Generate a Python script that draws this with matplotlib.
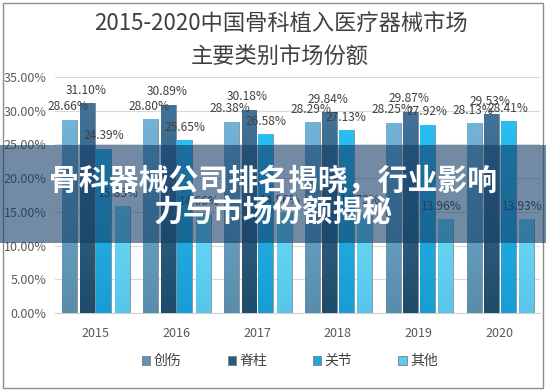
import matplotlib
matplotlib.use("Agg")
import matplotlib.pyplot as plt
import numpy as np
from matplotlib.patches import Rectangle, Patch
from matplotlib.colors import LinearSegmentedColormap

plt.rcParams['font.family'] = ['Noto Sans CJK SC', 'DejaVu Sans']

years = ['2015', '2016', '2017', '2018', '2019', '2020']
series_names = ['创伤', '脊柱', '关节', '其他']
trauma = [28.66, 28.80, 28.38, 28.29, 28.25, 28.13]
spine = [31.10, 30.89, 30.18, 29.84, 29.87, 29.53]
joint = [24.39, 25.65, 26.58, 27.13, 27.92, 28.41]
other = [15.85, 14.66, 14.86, 14.73, 13.96, 13.93]
series_values = [trauma, spine, joint, other]
yticks = [0, 5, 10, 15, 20, 25, 30, 35]

title_line1 = '2015-2020中国骨科植入医疗器械市场'
title_line2 = '主要类别市场份额'
banner_line1 = '骨科器械公司排名揭晓，行业影响'
banner_line2 = '力与市场份额揭秘'

top_colors = ['#72b4d8', '#44739a', '#2abef2', '#6bd8f6']
bot_colors = ['#5a8cab', '#1d4b69', '#189cd4', '#57c6ea']
legend_colors = ['#5f93b3', '#2a5a7c', '#1ea8e0', '#5ccdf0']

fig = plt.figure(figsize=(5.46, 3.91), dpi=100)
fig.patch.set_facecolor('white')
ax = fig.add_axes([55/546, 78/391, 485/546, 236/391])

x = np.arange(len(years))
offsets = [-0.316, -0.10, 0.105, 0.334]
label_shift = [-1, -1, 0, -3]  # small horizontal nudges in points
width = 0.185

for i, vals in enumerate(series_values):
    bars = ax.bar(x + offsets[i], vals, width=width, color=bot_colors[i],
                  edgecolor='#8a8f94', linewidth=0.6, zorder=3)
    cmap = LinearSegmentedColormap.from_list('g%d' % i, [bot_colors[i], top_colors[i]])
    grad = np.linspace(0, 1, 256).reshape(-1, 1)
    for b, v in zip(bars, vals):
        x0 = b.get_x()
        im = ax.imshow(grad, extent=[x0, x0 + b.get_width(), 0, v], origin='lower',
                       aspect='auto', cmap=cmap, zorder=3.5)
        im.set_clip_path(b)
        ax.annotate('%.2f%%' % v, (b.get_x() + b.get_width() / 2, v),
                    xytext=(label_shift[i], 4.5), textcoords='offset points',
                    ha='center', va='bottom',
                    fontsize=8.6, color='#404040', zorder=5)

ax.set_xlim(-0.5, 5.5)
ax.set_ylim(0, 35)
ax.set_yticks(yticks)
ax.set_yticklabels(['%.2f%%' % t for t in yticks])
ax.set_xticks(x)
ax.set_xticklabels(years)
ax.tick_params(axis='both', length=0, colors='#595959', labelsize=9)
ax.tick_params(axis='x', pad=10)
ax.tick_params(axis='y', pad=6)
ax.grid(axis='y', color='#d9d9d9', linewidth=0.8, zorder=0)
for s in ['left', 'right', 'top']:
    ax.spines[s].set_visible(False)
ax.spines['bottom'].set_color('#d0d0d0')
ax.set_axisbelow(True)

handles = [Patch(facecolor=legend_colors[i], edgecolor='#7a7f84', linewidth=0.6)
           for i in range(4)]
fig.legend(handles, series_names, loc='center', bbox_to_anchor=(290/546, 1 - 361/391),
           ncol=4, frameon=False, fontsize=10, handlelength=0.6, handleheight=0.6,
           handletextpad=0.25, columnspacing=3.3, labelcolor='#404040')

fig.text(0.515, 1 - 23/391, title_line1, ha='center', va='center', fontsize=16,
         color='#404040')
fig.text(0.513, 1 - 56/391, title_line2, ha='center', va='center', fontsize=16,
         color='#404040')

fig.patches.append(Rectangle((3/546, 3/391), 540/546, 385/391, transform=fig.transFigure,
                             fill=False, edgecolor='#8c8c8c', linewidth=1.0, zorder=1))

fig.patches.append(Rectangle((0, 1 - 243/391), 1, 98/391, transform=fig.transFigure,
                             facecolor=(0.08, 0.24, 0.40), alpha=0.6, edgecolor='none',
                             zorder=10))
fig.text(0.5, 1 - 181/391, banner_line1, ha='center', va='center', fontsize=21.5,
         fontweight='bold', color='white', zorder=11)
fig.text(0.5, 1 - 213/391, banner_line2, ha='center', va='center', fontsize=21.5,
         fontweight='bold', color='white', zorder=11)

fig.savefig('out.png', dpi=100)
